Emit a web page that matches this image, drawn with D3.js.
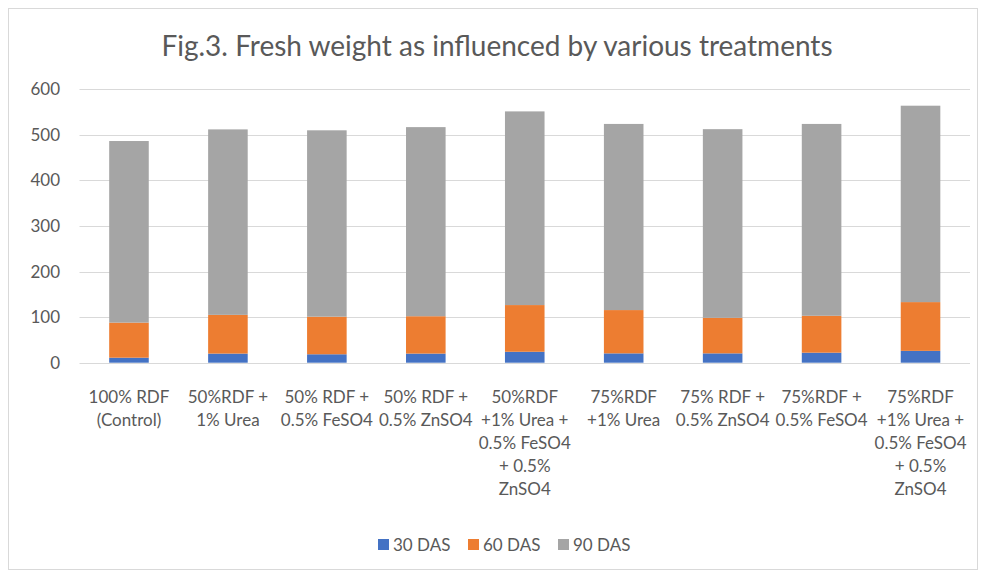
<!DOCTYPE html>
<html>
<head>
<meta charset="utf-8">
<script src="https://cdn.jsdelivr.net/npm/d3@7"></script>
<style>
	body { margin: 0; background: #fff; }
	svg { display: block; font-family: Lato, "Liberation Sans", sans-serif; }
</style>
</head>
<body>
<div class="chart"></div>
<script>
	'use strict';

	// data
	var categories = [
		['100% RDF', '(Control)'],
		['50%RDF +', '1% Urea'],
		['50% RDF +', '0.5% FeSO4'],
		['50% RDF +', '0.5% ZnSO4'],
		['50%RDF', '+1% Urea +', '0.5% FeSO4', '+ 0.5%', 'ZnSO4'],
		['75%RDF', '+1% Urea'],
		['75% RDF +', '0.5% ZnSO4'],
		['75%RDF +', '0.5% FeSO4'],
		['75%RDF', '+1% Urea +', '0.5% FeSO4', '+ 0.5%', 'ZnSO4']
	];
	var seriesNames = ['30 DAS', '60 DAS', '90 DAS'];
	var das30 = [11, 20, 18.5, 20, 24, 20.5, 20.5, 22, 26];
	var das60 = [77, 85, 82.5, 82, 102.5, 95, 78, 81, 107];
	var das90 = [398.5, 407, 409, 415, 425, 408.5, 414, 421, 431];
	var colors = ['#4472C4', '#ED7D31', '#A5A5A5'];
	var yTicks = [0, 100, 200, 300, 400, 500, 600];
	var title = 'Fig.3. Fresh weight as influenced by various treatments';

	var width = 982, height = 572;
	var svg = d3.select('.chart').append('svg').attr('width', width).attr('height', height);

	// outer chart frame
	svg.append('rect')
		.attr('x', 8.5).attr('y', 8.5)
		.attr('width', 969).attr('height', 561)
		.attr('fill', '#fff').attr('stroke', '#d9d9d9');

	var x = d3.scaleBand().domain(d3.range(categories.length)).range([79.5, 970]).paddingInner(0.6).paddingOuter(0.3);
	var y = d3.scaleLinear().domain([0, 600]).range([362.7, 89.3]);

	// gridlines
	svg.append('g').selectAll('line').data(yTicks).enter().append('line')
		.attr('x1', 79.5).attr('x2', 970)
		.attr('y1', function(d) { return Math.round(y(d)) + 0.5; })
		.attr('y2', function(d) { return Math.round(y(d)) + 0.5; })
		.attr('stroke', '#d9d9d9').attr('stroke-width', 1);

	// y tick labels
	svg.append('g').selectAll('text').data(yTicks).enter().append('text')
		.attr('x', 60).attr('y', function(d) { return y(d) + 6; })
		.attr('text-anchor', 'end').attr('fill', '#595959').attr('font-size', 17)
		.text(function(d) { return d; });

	// stack the series
	var rows = categories.map(function(c, i) {
		return { i: i, s0: das30[i], s1: das60[i], s2: das90[i] };
	});
	var stack = d3.stack().keys(['s0', 's1', 's2'])(rows);

	svg.append('g').selectAll('g').data(stack).enter().append('g')
		.attr('fill', function(d, k) { return colors[k]; })
		.selectAll('rect').data(function(d) { return d; }).enter().append('rect')
		.attr('x', function(d) { return x(d.data.i); })
		.attr('width', x.bandwidth())
		.attr('y', function(d) { return y(d[1]); })
		.attr('height', function(d) { return y(d[0]) - y(d[1]); });

	// category labels
	var labels = svg.append('g').selectAll('text').data(categories).enter().append('text')
		.attr('text-anchor', 'middle').attr('fill', '#595959').attr('font-size', 17)
		.attr('transform', function(d, i) { return 'translate(' + (x(i) + x.bandwidth() / 2) + ',403)'; });
	labels.selectAll('tspan').data(function(d) { return d; }).enter().append('tspan')
		.attr('x', 0).attr('y', function(d, j) { return j * 23; })
		.text(function(d) { return d; });

	// title
	svg.append('text')
		.attr('x', 497).attr('y', 56)
		.attr('text-anchor', 'middle').attr('fill', '#595959').attr('font-size', 28)
		.text(title);

	// legend
	var legendX = [378, 468, 558];
	var legend = svg.append('g').selectAll('g').data(seriesNames).enter().append('g')
		.attr('transform', function(d, k) { return 'translate(' + legendX[k] + ',539)'; });
	legend.append('rect').attr('width', 11).attr('height', 11)
		.attr('fill', function(d, k) { return colors[k]; });
	legend.append('text').attr('x', 15).attr('y', 12)
		.attr('fill', '#595959').attr('font-size', 17)
		.text(function(d) { return d; });
</script>
</body>
</html>
